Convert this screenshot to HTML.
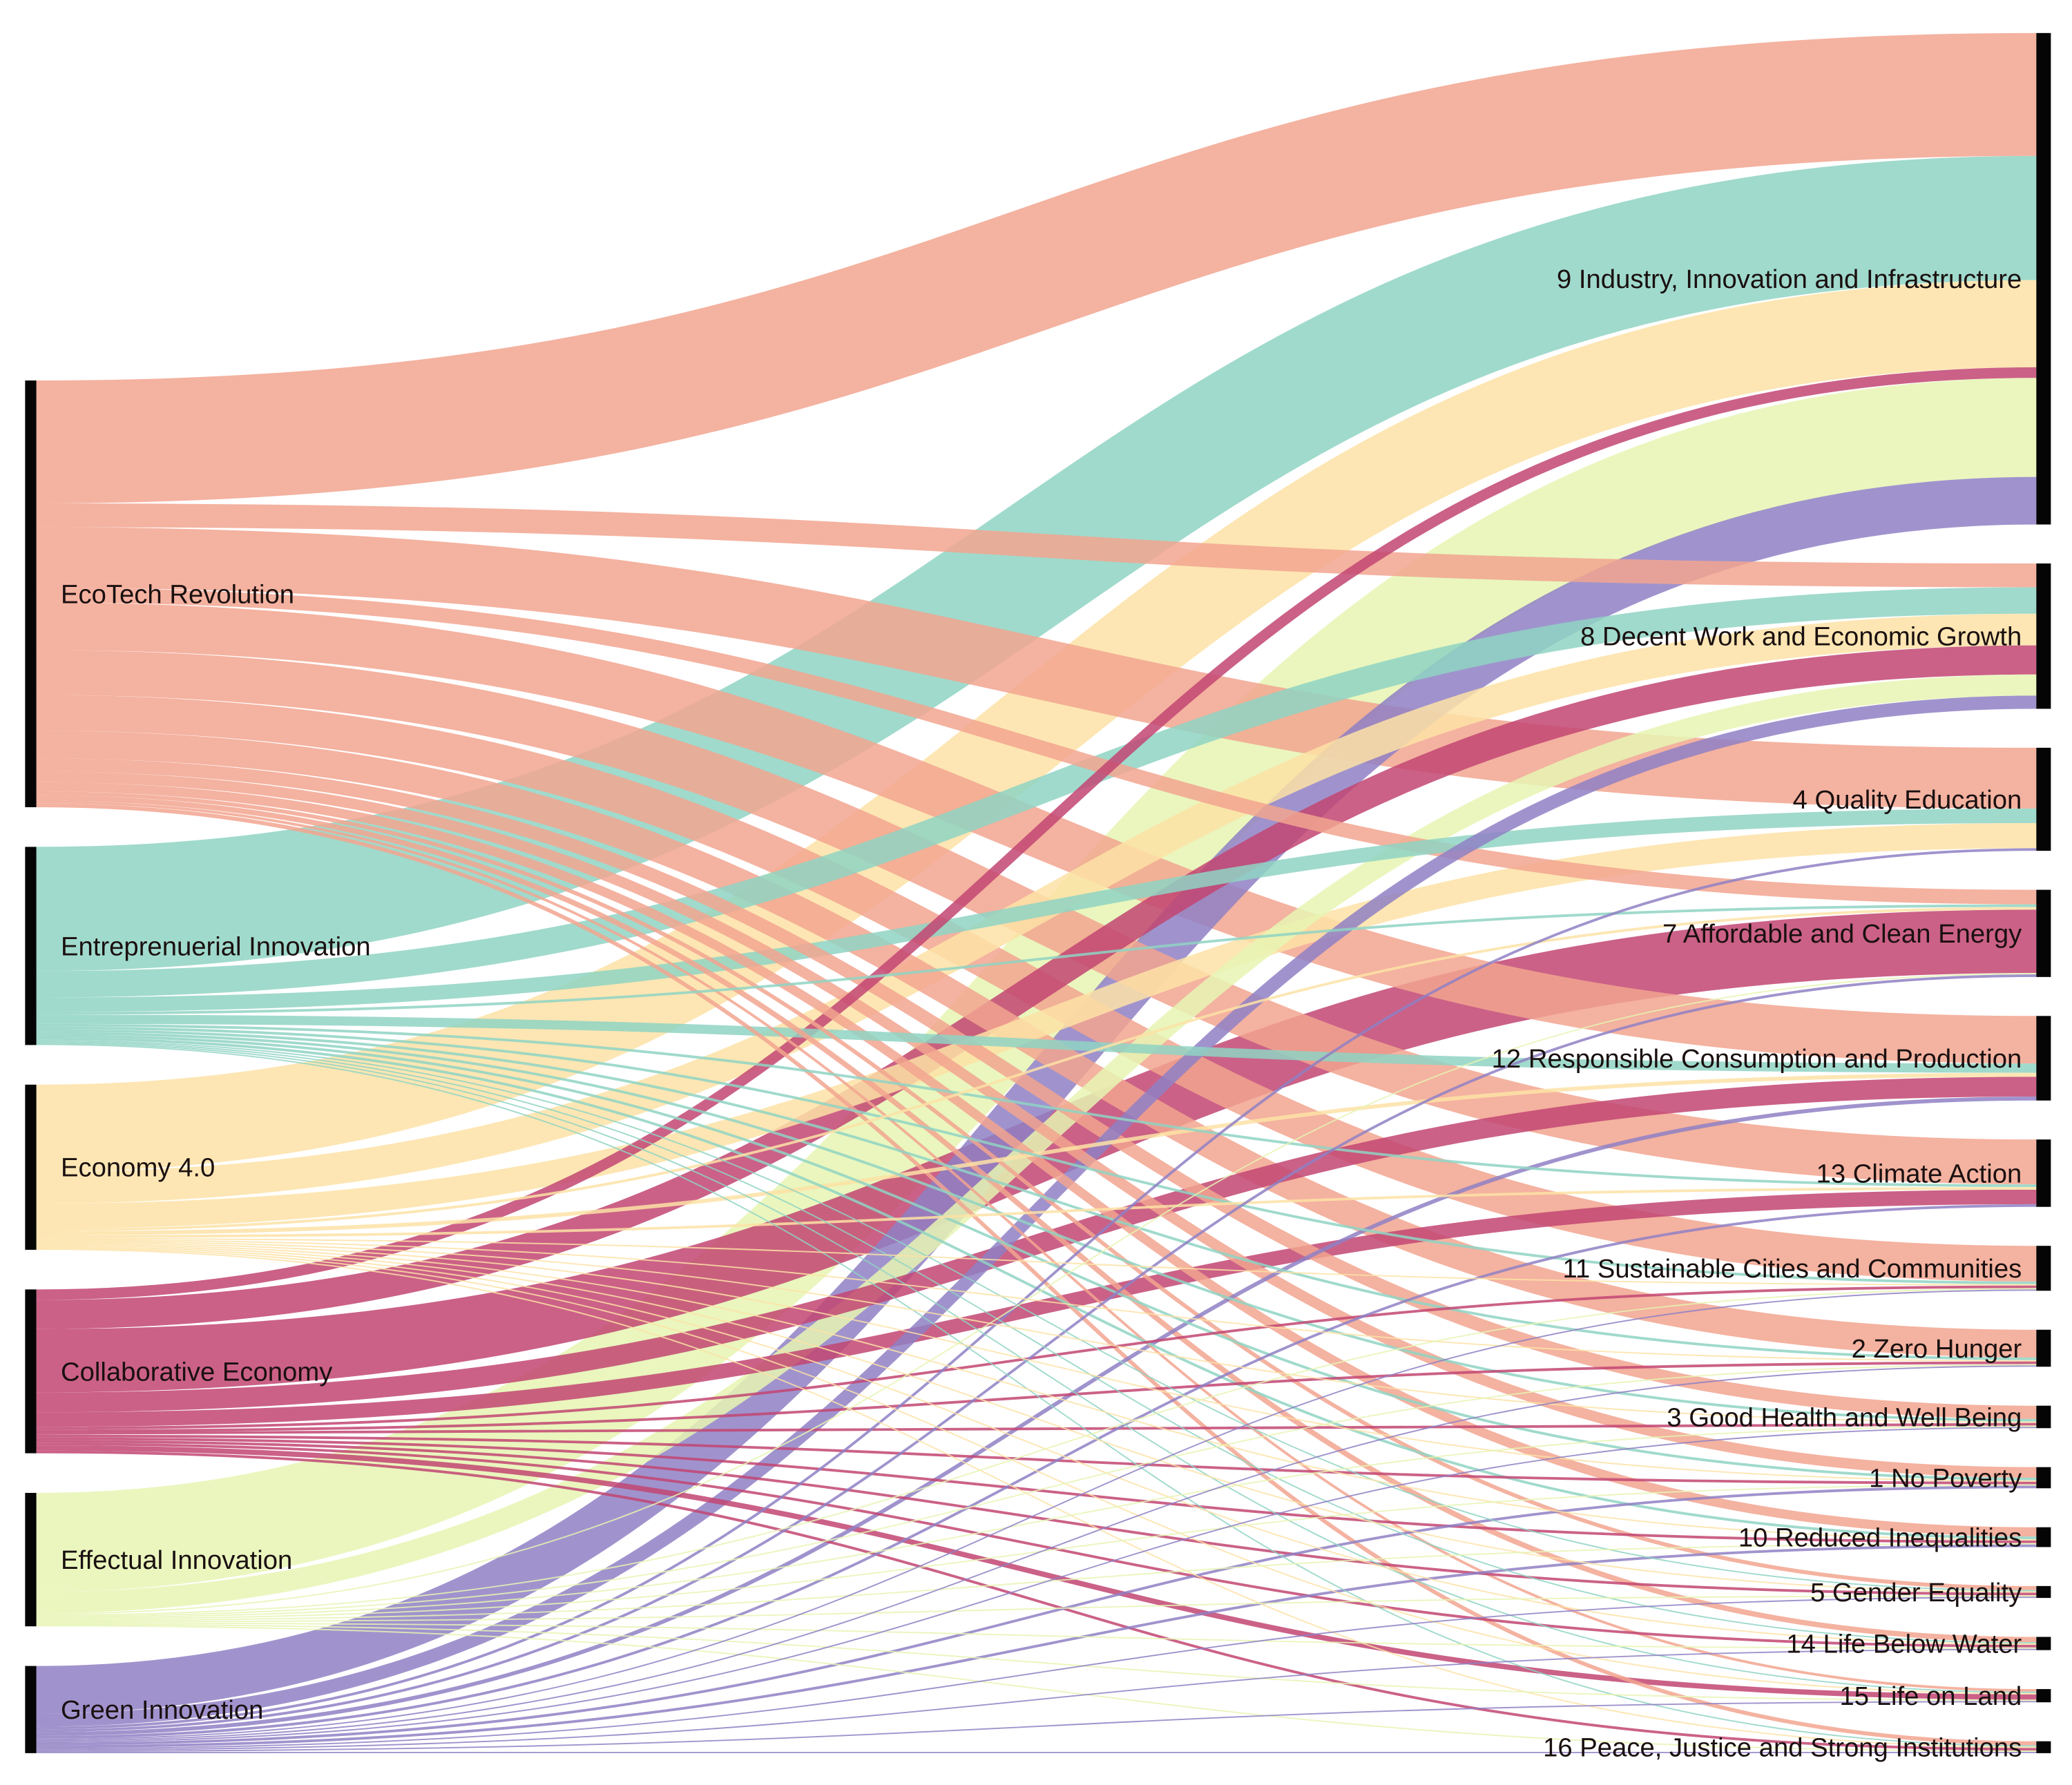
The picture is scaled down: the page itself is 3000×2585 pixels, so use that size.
<!DOCTYPE html>
<html><head><meta charset="utf-8"><style>
html,body{margin:0;padding:0;background:#fff;}
svg{display:block;}
text{font-family:"Liberation Sans",sans-serif;font-size:20px;fill:#1a1010;}
</style></head><body>
<svg id="chart" width="3000" height="2585" viewBox="0 0 1568 1351.1" preserveAspectRatio="none" xmlns="http://www.w3.org/2000/svg">
<g id="links"></g>
<g id="nodes"></g>
</svg>
<script>
const sources = ["EcoTech Revolution","Entreprenuerial Innovation","Economy 4.0","Collaborative Economy","Effectual Innovation","Green Innovation"];
const targets = ["9 Industry, Innovation and Infrastructure","8 Decent Work and Economic Growth","4 Quality Education","7 Affordable and Clean Energy","12 Responsible Consumption and Production","13 Climate Action","11 Sustainable Cities and Communities","2 Zero Hunger","3 Good Health and Well Being","1 No Poverty","10 Reduced Inequalities","5 Gender Equality","14 Life Below Water","15 Life on Land","16 Peace, Justice and Strong Institutions"];
const sourceColors = ["#f2a58f","#8fd3c3","#fde2a6","#c24572","#e6f5b3","#8f80c4"];
// values[source][target]
const ecotechValues = [93,18,46,11,36,34,27,21,10,8,7,3,4,2,3];
const entreValues = [94,20,11,2,7,2,2,2,2,2,2,1,1,1,1];
const economyValues = [66,24,19,2,3,2,1,1,1,1,1,1,1,1,1];
const collabValues = [8,22,0,48,15,11,2,2,2,2,2,2,2,4,2];
const effectualValues = [75,16,0,1,0,0,1,1,1,1,1,1,1,1,1];
const greenValues = [36,10,2,2,3,2,1,1,1,2,2,1,1,1,1];
const values = [ecotechValues,entreValues,economyValues,collabValues,effectualValues,greenValues];

const NS="http://www.w3.org/2000/svg";
const linksG=document.getElementById('links'), nodesG=document.getElementById('nodes');
const ky=1;
const srcTot=sources.map((s,i)=>values[i].reduce((a,b)=>a+b,0));
const tgtTot=targets.map((t,j)=>values.reduce((a,r)=>a+r[j],0));
const sumAll=srcTot.reduce((a,b)=>a+b,0);
const LTOP=288,LBOT=1327,RTOP=25,RBOT=1327;
const lgap=(LBOT-LTOP-sumAll*ky)/(sources.length-1);
const rgap=(RBOT-RTOP-sumAll*ky)/(targets.length-1);
const LX0=19,LX1=27.5,RX0=1541,RX1=1552;
const sy=[],ty=[];
let y=LTOP;srcTot.forEach((v,i)=>{sy.push(y);y+=v*ky+lgap;});
y=RTOP;tgtTot.forEach((v,j)=>{ty.push(y);y+=v*ky+rgap;});
const sOff=sy.slice();
const paths=[];
for(let i=0;i<sources.length;i++){
  for(let j=0;j<targets.length;j++){
    const v=values[i][j]; if(!v) continue;
    const w=v*ky;
    const y0=sOff[i]+w/2;
    sOff[i]+=w;
    paths.push({i,j,w,y0,y1:0});
  }
}
const tcur=ty.slice();
for(const p of paths){p.y1=tcur[p.j]+p.w/2;tcur[p.j]+=p.w;}
paths.sort((a,b)=>b.w-a.w);
for(const p of paths){
  const el=document.createElementNS(NS,'path');
  const xm=(LX1+RX0)/2;
  el.setAttribute('d',`M${LX1},${p.y0}C${xm},${p.y0} ${xm},${p.y1} ${RX0},${p.y1}`);
  el.setAttribute('fill','none');
  el.setAttribute('stroke',sourceColors[p.i]);
  el.setAttribute('stroke-opacity','0.85');
  el.setAttribute('stroke-width',Math.max(p.w,0.8));
  
  
  linksG.appendChild(el);
}
sources.forEach((s,i)=>{
  const r=document.createElementNS(NS,'rect');
  r.setAttribute('x',LX0);r.setAttribute('y',sy[i]);r.setAttribute('width',LX1-LX0);r.setAttribute('height',srcTot[i]*ky);r.setAttribute('fill','#050505');
  
  
  nodesG.appendChild(r);
  const t=document.createElementNS(NS,'text');
  t.setAttribute('x',46);t.setAttribute('y',sy[i]+srcTot[i]*ky/2+7);t.textContent=s;
  
  
  nodesG.appendChild(t);
});
targets.forEach((s,j)=>{
  const r=document.createElementNS(NS,'rect');
  const h=Math.max(tgtTot[j]*ky,4);
  r.setAttribute('x',RX0);r.setAttribute('y',ty[j]);r.setAttribute('width',RX1-RX0);r.setAttribute('height',h);r.setAttribute('fill','#050505');
  
  
  nodesG.appendChild(r);
  const t=document.createElementNS(NS,'text');
  t.setAttribute('x',1530);t.setAttribute('y',ty[j]+tgtTot[j]*ky/2+7);t.setAttribute('text-anchor','end');t.textContent=s;
  
  
  nodesG.appendChild(t);
});
</script>
</body></html>
